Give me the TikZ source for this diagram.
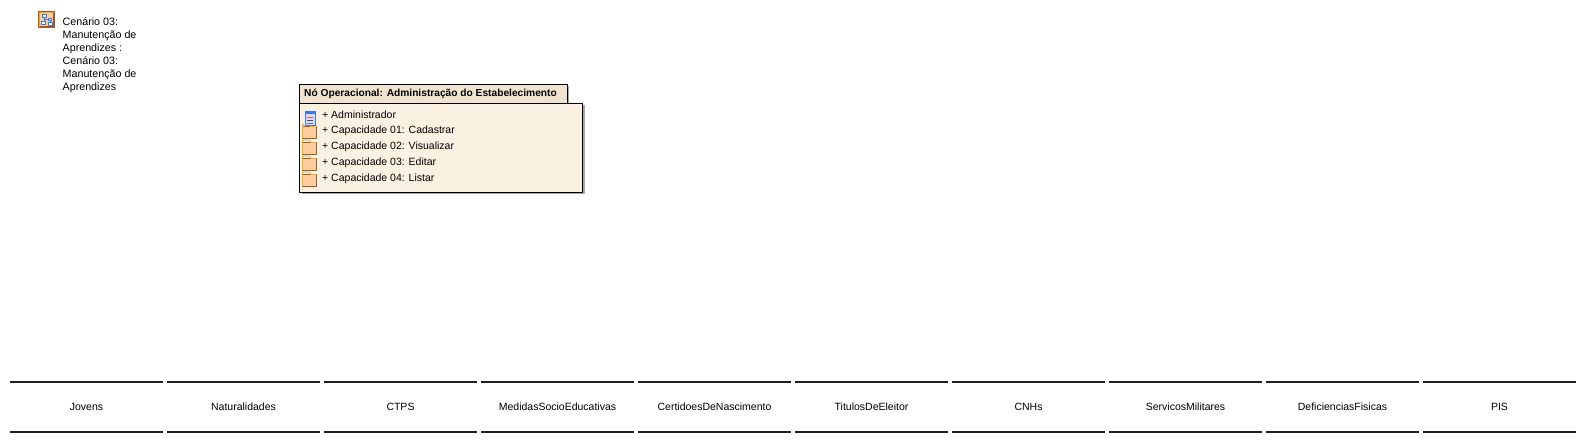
\documentclass[tikz,border=0pt]{standalone}
\usepackage{fontspec}
\setmainfont{Liberation Sans}
\definecolor{r251g241b227}{RGB}{251,241,227}
\definecolor{r240g228b208}{RGB}{240,228,208}
\definecolor{r253g205b160}{RGB}{253,205,160}
\definecolor{r160g90b40}{RGB}{160,90,40}
\definecolor{r224g176b48}{RGB}{224,176,48}
\definecolor{r60g120b230}{RGB}{60,120,230}
\definecolor{r30g30b30}{RGB}{30,30,30}
\tikzset{
  storeline/.style={line width=2pt,color=r30g30b30},
  storetext/.style={font=\fontsize{10.5}{12}\selectfont},
  membertext/.style={anchor=west,inner sep=0pt,font=\fontsize{10.5}{12}\selectfont},
  folderbody/.style={fill=r253g205b160,draw=r160g90b40,line width=0.9pt},
  foldertop/.style={draw=r224g176b48,line width=0.9pt},
  treebox/.style={fill=white,draw=r60g120b230,line width=0.8pt},
}
\begin{document}
\begin{tikzpicture}[x=1pt,y=-1pt]
\useasboundingbox (0,0) rectangle (1585,442);

% Marking scenario icon
\draw [line width=1.2pt,draw=r160g90b40,fill=r253g205b160] (39,12) rectangle (54,27);
\draw [line width=0.7pt,draw=r224g176b48] (39,27) -- (39,12) -- (54,12);
\draw [line width=0.6pt,draw=r60g120b230] (44,16) -- (44,24);
\draw [line width=0.6pt,draw=r60g120b230] (44,19) -- (50,19) -- (50,23);
\draw [treebox] (42,14) rectangle (46,17);
\draw [treebox] (48,18) rectangle (51,20);
\draw [treebox] (41,21) rectangle (45,24);
\draw [treebox] (48,22) rectangle (52,25);

% Marking scenario label
\node (cenario) [anchor=north west,align=left,inner sep=0pt,font=\fontsize{10.7}{13}\selectfont] at (62.5,17.5)
  {Cenário 03:\\Manutenção de\\Aprendizes :\\Cenário 03:\\Manutenção de\\Aprendizes};

% Filling shadows
\fill [black!35] (302,86) rectangle (569,104);
\fill [black!35] (302,105) rectangle (585,194);

% Drawing header and body
\node (header) [draw=black,fill=r240g228b208,line width=1pt,anchor=north west,minimum width=268,minimum height=19,inner sep=0pt] at (299,83.5) {};
\node (body) [draw=black,fill=r251g241b227,line width=1pt,anchor=north west,minimum width=283,minimum height=89,inner sep=0pt] at (299,102.5) {};
\node (titulo) [anchor=west,inner sep=0pt,font=\bfseries\fontsize{10.2}{12}\selectfont] at (304,94) {Nó Operacional: Administração do Estabelecimento};

% Marking member icons
\draw [line width=0.7pt,draw=r60g120b230,fill=blue!15] (305,111) rectangle (315,125);
\fill [r60g120b230] (305,111) rectangle (315,114);
\draw [line width=0.9pt,draw=red!70] (307,117) -- (313,117);
\draw [line width=0.9pt,draw=black!70] (307,120) -- (313,120);
\draw [line width=0.9pt,draw=r60g120b230] (307,123) -- (313,123);

% Marking folder 01
\draw [folderbody] (302.5,126.5) rectangle (316.5,138);
\draw [foldertop] (302.5,138) -- (302.5,125) -- (303.5,124) -- (309.5,124) -- (311,126.5) -- (316.5,126.5);
% Marking folder 02
\draw [folderbody] (302.5,142.5) rectangle (316.5,154);
\draw [foldertop] (302.5,154) -- (302.5,141) -- (303.5,140) -- (309.5,140) -- (311,142.5) -- (316.5,142.5);
% Marking folder 03
\draw [folderbody] (302.5,158.5) rectangle (316.5,170);
\draw [foldertop] (302.5,170) -- (302.5,157) -- (303.5,156) -- (309.5,156) -- (311,158.5) -- (316.5,158.5);
% Marking folder 04
\draw [folderbody] (302.5,174.5) rectangle (316.5,186);
\draw [foldertop] (302.5,186) -- (302.5,173) -- (303.5,172) -- (309.5,172) -- (311,174.5) -- (316.5,174.5);

% Marking members
\node (administrador) [membertext] at (322,115) {+ Administrador};
\node (cadastrar) [membertext] at (322,131) {+ Capacidade 01: Cadastrar};
\node (visualizar) [membertext] at (322,147) {+ Capacidade 02: Visualizar};
\node (editar) [membertext] at (322,163) {+ Capacidade 03: Editar};
\node (listar) [membertext] at (322,179) {+ Capacidade 04: Listar};

% Drawing store Jovens
\draw [storeline] (10,382) -- (163,382);
\draw [storeline] (10,432) -- (163,432);
\node (jovens) [storetext] at (86.5,406.5) {Jovens};

% Drawing store Naturalidades
\draw [storeline] (167,382) -- (320,382);
\draw [storeline] (167,432) -- (320,432);
\node (naturalidades) [storetext] at (243.5,406.5) {Naturalidades};

% Drawing store CTPS
\draw [storeline] (324,382) -- (477,382);
\draw [storeline] (324,432) -- (477,432);
\node (ctps) [storetext] at (400.5,406.5) {CTPS};

% Drawing store MedidasSocioEducativas
\draw [storeline] (481,382) -- (634,382);
\draw [storeline] (481,432) -- (634,432);
\node (medidas) [storetext] at (557.5,406.5) {MedidasSocioEducativas};

% Drawing store CertidoesDeNascimento
\draw [storeline] (638,382) -- (791,382);
\draw [storeline] (638,432) -- (791,432);
\node (certidoes) [storetext] at (714.5,406.5) {CertidoesDeNascimento};

% Drawing store TitulosDeEleitor
\draw [storeline] (795,382) -- (948,382);
\draw [storeline] (795,432) -- (948,432);
\node (titulos) [storetext] at (871.5,406.5) {TitulosDeEleitor};

% Drawing store CNHs
\draw [storeline] (952,382) -- (1105,382);
\draw [storeline] (952,432) -- (1105,432);
\node (cnhs) [storetext] at (1028.5,406.5) {CNHs};

% Drawing store ServicosMilitares
\draw [storeline] (1109,382) -- (1262,382);
\draw [storeline] (1109,432) -- (1262,432);
\node (servicos) [storetext] at (1185.5,406.5) {ServicosMilitares};

% Drawing store DeficienciasFisicas
\draw [storeline] (1266,382) -- (1419,382);
\draw [storeline] (1266,432) -- (1419,432);
\node (deficiencias) [storetext] at (1342.5,406.5) {DeficienciasFisicas};

% Drawing store PIS
\draw [storeline] (1423,382) -- (1576,382);
\draw [storeline] (1423,432) -- (1576,432);
\node (pis) [storetext] at (1499.5,406.5) {PIS};
\end{tikzpicture}
\end{document}
